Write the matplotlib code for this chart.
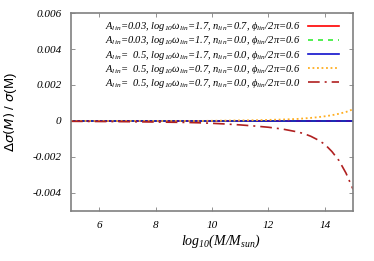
import matplotlib
matplotlib.use("Agg")
import matplotlib.pyplot as plt

plt.rcParams['font.family'] = ['Liberation Serif', 'DejaVu Serif']
plt.rcParams['mathtext.fontset'] = 'custom'
plt.rcParams['mathtext.rm'] = 'Liberation Serif:italic'
plt.rcParams['mathtext.it'] = 'Liberation Serif:italic'

# data
x_flat = [5, 6, 7, 8, 9, 10, 11, 12, 13, 14, 15]
y_red = [0.0, 0.0, 0.0, 0.0, 0.0, 0.0, 0.0, 0.0, 0.0, 0.0, 0.0]
y_green = [0.0, 0.0, 0.0, 0.0, -0.00001, 0.0, 0.0, 0.0, 0.0, 0.0, 0.0]
y_blue = [0.0, 0.0, 0.0, 0.0, 0.0, 0.0, 0.0, 0.0, 0.0, 0.0, 0.0]
x_curve = [5, 6, 7, 8, 9, 9.5, 10, 10.5, 11, 11.5, 12, 12.5, 13, 13.25, 13.5, 13.75,
           14, 14.25, 14.5, 14.75, 15]
y_orange = [0.0, 0.0, 0.0, 0.0, 0.0, 0.0, 0.00001, 0.00002, 0.00003, 0.00004, 0.00006,
            0.00008, 0.00011, 0.00014, 0.00017, 0.00021, 0.00026, 0.00032, 0.0004,
            0.0005, 0.00065]
y_darkred = [-0.00002, -0.00003, -0.00004, -0.00006, -0.00008, -0.0001, -0.00013,
             -0.00017, -0.00022, -0.00028, -0.00035, -0.00045, -0.0006, -0.0007,
             -0.00085, -0.00105, -0.0013, -0.0017, -0.0022, -0.0029, -0.0038]

labels = [
    r"$A_{lin}$=0.03, log$_{10}\omega_{lin}$=1.7, $n_{lin}$=0.7, $\phi_{lin}$/2$\pi$=0.6",
    r"$A_{lin}$=0.03, log$_{10}\omega_{lin}$=1.7, $n_{lin}$=0.0, $\phi_{lin}$/2$\pi$=0.6",
    r"$A_{lin}$=  0.5, log$_{10}\omega_{lin}$=1.7, $n_{lin}$=0.0, $\phi_{lin}$/2$\pi$=0.6",
    r"$A_{lin}$=  0.5, log$_{10}\omega_{lin}$=0.7, $n_{lin}$=0.0, $\phi_{lin}$/2$\pi$=0.6",
    r"$A_{lin}$=  0.5, log$_{10}\omega_{lin}$=0.7, $n_{lin}$=0.0, $\phi_{lin}$/2$\pi$=0.0",
]
xticks = [6, 8, 10, 12, 14]
yticks = [-0.004, -0.002, 0, 0.002, 0.004, 0.006]
ytick_labels = ["-0.004", "-0.002", "0", "0.002", "0.004", "0.006"]

fig = plt.figure(figsize=(3.74, 2.61), dpi=100)
ax = fig.add_axes([0.190, 0.192, 0.754, 0.758])

ax.plot(x_flat, y_red, color='#ff0000', lw=1.2, label=labels[0])
ax.plot(x_flat, y_green, color='#33ee33', lw=1.2, ls=(0, (3, 3)), label=labels[1])
ax.plot(x_flat, y_blue, color='#1010cc', lw=1.2, label=labels[2])
ax.plot(x_curve, y_orange, color='#ffae20', lw=1.3, ls=(0, (1, 1.5)), label=labels[3])
ax.plot(x_curve, y_darkred, color='#b02020', lw=1.2, ls=(0, (7, 3, 1.2, 3)), label=labels[4])

ax.set_xlim(5, 15)
ax.set_ylim(-0.005, 0.006)
ax.set_xticks(xticks)
ax.set_xticklabels([str(t) for t in xticks], fontstyle='italic')
ax.set_yticks(yticks)
ax.set_yticklabels(ytick_labels, fontstyle='italic')
ax.tick_params(direction='in', top=True, right=True, length=3, width=0.6,
               color='#808080', labelsize=8, pad=7)
for s in ax.spines.values():
    s.set_color('#808080')
    s.set_linewidth(1.2)

ax.set_xlabel(r"log$_{10}$($M$/$M_{sun}$)", fontsize=10, fontstyle='italic', labelpad=4)
ax.xaxis.set_label_coords(0.53, -0.11)
ax.set_ylabel(r"$\Delta\sigma(M)$ / $\sigma$(M)", fontsize=9.5, family='Liberation Sans',
              math_fontfamily='dejavusans')
ax.yaxis.set_label_coords(-0.185, 0.5)

leg = ax.legend(loc='upper right', bbox_to_anchor=(0.975, 1.0), frameon=False,
                markerfirst=False, prop={'size': 7.6, 'style': 'italic'},
                handlelength=2.9, labelspacing=0.1, handletextpad=0.7, borderpad=0.2)

fig.savefig("out.png", dpi=100)
